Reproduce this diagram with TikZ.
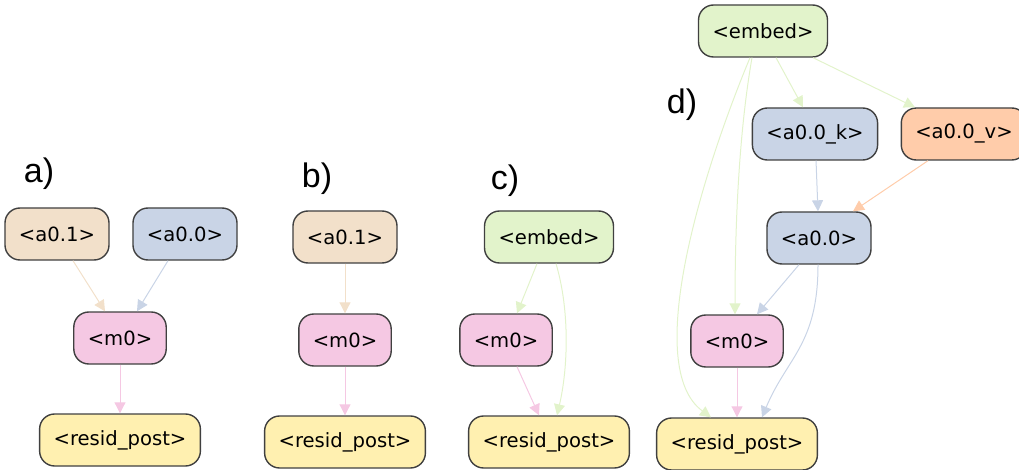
\documentclass[tikz,border=0pt]{standalone}
\usepackage{fontspec}
\setmainfont{DejaVu Sans}
\newfontfamily\tagfont{Liberation Sans}
\usetikzlibrary{arrows.meta}

\definecolor{boxline}{HTML}{404040}
\definecolor{tanfill}{HTML}{F2E0CA}
\definecolor{bluefill}{HTML}{C9D4E6}
\definecolor{pinkfill}{HTML}{F5C8E3}
\definecolor{yellowfill}{HTML}{FFF0B0}
\definecolor{greenfill}{HTML}{E2F3CB}
\definecolor{orangefill}{HTML}{FFCCAA}

\begin{document}
\begin{tikzpicture}[x=1pt,y=-1pt,>={Triangle[length=11pt,width=11pt]}]

        % Define block styles
        \tikzstyle{block} = [rectangle, draw=boxline, line width=1.4pt, rounded corners=15pt, minimum height=52pt, inner xsep=14pt, font=\fontsize{19.6}{23}\selectfont]
        \tikzstyle{attn} = [block, fill=bluefill]
        \tikzstyle{attnone} = [block, fill=tanfill]
        \tikzstyle{attnv} = [block, fill=orangefill]
        \tikzstyle{mlp} = [block, fill=pinkfill]
        \tikzstyle{embed} = [block, fill=greenfill]
        \tikzstyle{resid} = [block, fill=yellowfill]
        \tikzstyle{arrow} = [line width=1pt,->]
        \tikzstyle{tag} = [font=\tagfont\fontsize{34}{40}\selectfont]

        \useasboundingbox (0,0) rectangle (1019,470);

        % Components: a)
        \node (taga) [tag] at (39,174) {a)};
        \node (a01a) [attnone] at (57,234) {<a0.1>};
        \node (a00a) [attn] at (185,234) {<a0.0>};
        \node (m0a) [mlp] at (120,338) {<m0>};
        \node (resida) [resid] at (120,440) {<resid\_post>};

        % Components: b)
        \node (tagb) [tag] at (317,179) {b)};
        \node (a01b) [attnone] at (345,237) {<a0.1>};
        \node (m0b) [mlp] at (345,340) {<m0>};
        \node (residb) [resid] at (345,442) {<resid\_post>};

        % Components: c)
        \node (tagc) [tag] at (505,181) {c)};
        \node (embedc) [embed] at (549,237) {<embed>};
        \node (m0c) [mlp] at (506,340) {<m0>};
        \node (residc) [resid] at (549,442) {<resid\_post>};

        % Components: d)
        \node (tagd) [tag] at (682,105) {d)};
        \node (embedd) [embed] at (763,31) {<embed>};
        \node (a00k) [attn] at (815,134) {<a0.0\_k>};
        \node (a00v) [attnv] at (964,134) {<a0.0\_v>};
        \node (a00d) [attn] at (819,238) {<a0.0>};
        \node (m0d) [mlp] at (737,341) {<m0>};
        \node (residd) [resid] at (737,444) {<resid\_post>};

        % Arrows: a)
        \draw [arrow, tanfill] ([xshift=16pt]a01a.south) -- ([xshift=-15pt]m0a.north);
        \draw [arrow, bluefill] ([xshift=-17pt]a00a.south) -- ([xshift=17pt]m0a.north);
        \draw [arrow, pinkfill] (m0a) -- (resida);

        % Arrows: b)
        \draw [arrow, tanfill] (a01b) -- (m0b);
        \draw [arrow, pinkfill] (m0b) -- (residb);

        % Arrows: c)
        \draw [arrow, greenfill] ([xshift=-12pt]embedc.south) -- ([xshift=11pt]m0c.north);
        \draw [arrow, greenfill] ([xshift=7pt]embedc.south) .. controls +(14,47) and +(11,-47) .. ([xshift=8pt]residc.north);
        \draw [arrow, pinkfill] ([xshift=11pt]m0c.south) -- ([xshift=-10pt]residc.north);

        % Arrows: d)
        \draw [arrow, greenfill] ([xshift=13pt]embedd.south) -- ([xshift=-12pt]a00k.north);
        \draw [arrow, greenfill] ([xshift=50pt]embedd.south) -- ([xshift=-49pt]a00v.north);
        \draw [arrow, greenfill] ([xshift=-11pt]embedd.south) .. controls +(-14,80) and +(0,-80) .. ([xshift=-2pt]m0d.north);
        \draw [arrow, greenfill] ([xshift=-13pt]embedd.south) .. controls +(-50,120) and +(-68,-50) .. ([xshift=-26pt]residd.north);
        \draw [arrow, bluefill] (a00k) -- (a00d);
        \draw [arrow, orangefill] ([xshift=-36pt]a00v.south) -- ([xshift=34pt]a00d.north);
        \draw [arrow, bluefill] ([xshift=-20pt]a00d.south) -- ([xshift=20pt]m0d.north);
        \draw [arrow, bluefill] ([xshift=-1pt]a00d.south) .. controls +(0,80) and +(25,-60) .. ([xshift=25pt]residd.north);
        \draw [arrow, pinkfill] (m0d) -- (residd);

      \end{tikzpicture}
\end{document}
